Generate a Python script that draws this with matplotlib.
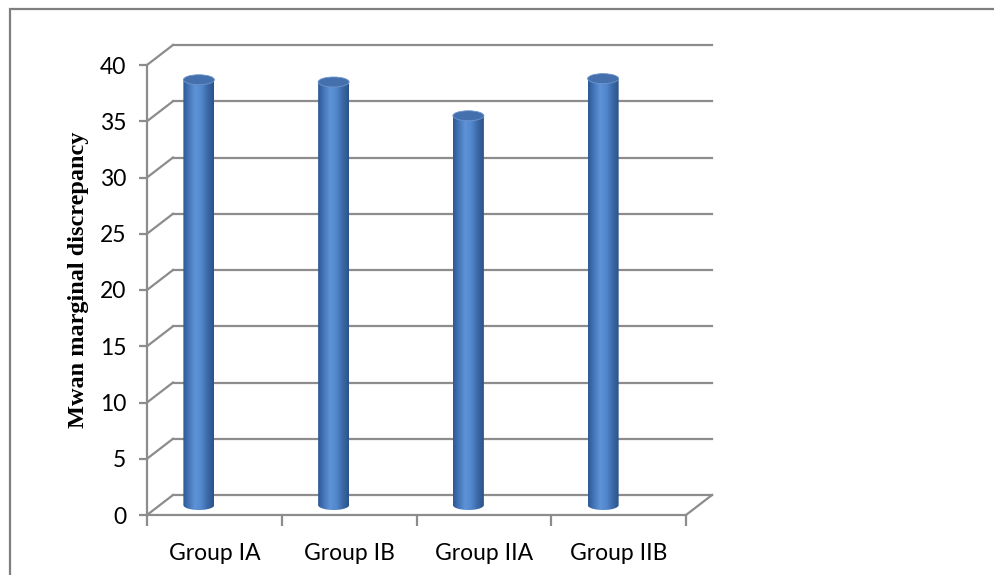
import matplotlib.pyplot as plt
import numpy as np
from matplotlib.colors import LinearSegmentedColormap
from matplotlib.patches import Ellipse, Polygon, Rectangle

categories = ["Group IA", "Group IB", "Group IIA", "Group IIB"]
values = [37.8, 37.6, 34.6, 37.9]
y_ticks = [0, 5, 10, 15, 20, 25, 30, 35, 40]
y_label = "Mwan marginal discrepancy"

W, H = 995, 575
fig = plt.figure(figsize=(W / 100, H / 100), dpi=100)

# plot box in pixels: front axis x 147..686, back wall to 712, value 0 at y=515, 40 at y=65
px_left, px_front_right, px_back_right = 147, 686, 712
px_zero, px_forty, px_back_top = 515, 65, 45
cat_px = (px_front_right - px_left) / len(categories)
val_px = (px_zero - px_forty) / 40.0
dx = (px_back_right - px_front_right) / cat_px
dy = (px_forty - px_back_top) / val_px

ax = fig.add_axes([px_left / W, (H - px_zero) / H,
                   (px_back_right - px_left) / W, (px_zero - px_back_top) / H])
x_lo, x_hi = -0.5, len(categories) - 0.5
ax.patch.set_alpha(0)

grid_col = "#8c8c8c"
lw = 1.6
# back wall gridlines and side wall diagonals
for v in y_ticks:
    ax.plot([x_lo + dx, x_hi + dx], [v + dy, v + dy], color=grid_col, lw=lw, clip_on=False, zorder=1)
    ax.plot([x_lo, x_lo + dx], [v, v + dy], color=grid_col, lw=lw, clip_on=False, zorder=1)
# floor right diagonal
ax.plot([x_hi, x_hi + dx], [0, dy], color=grid_col, lw=lw, clip_on=False, zorder=1)

for s in ["top", "right"]:
    ax.spines[s].set_visible(False)
for s in ["left", "bottom"]:
    ax.spines[s].set_color(grid_col)
    ax.spines[s].set_linewidth(lw)
ax.spines["left"].set_bounds(0, 40)
ax.spines["bottom"].set_bounds(x_lo, x_hi)

ax.set_yticks(y_ticks)
ax.set_yticklabels([str(t) for t in y_ticks], fontsize=16.5, family="Lato")
ax.tick_params(axis="y", length=6, width=lw, color=grid_col, pad=9)
ax.set_xticks(range(len(categories)))
ax.set_xticklabels(categories, fontsize=16.5, family="Lato")
ax.tick_params(axis="x", which="major", length=0, pad=20)
ax.set_xticks(np.arange(x_lo, x_hi + 0.01, 1.0), minor=True)
ax.tick_params(axis="x", which="minor", length=8, width=lw, color=grid_col)

ax.set_ylabel(y_label, family="Liberation Serif", fontweight="bold", fontsize=17.5, labelpad=8)

# cylinders
body_cmap = LinearSegmentedColormap.from_list(
    "cyl", ["#2d5893", "#4677bb", "#5f93d8", "#5287cc", "#3b68a6", "#2b5389"])
bar_shift = -0.115
half_w = 15.5 / cat_px
ell_h = 10.0 / val_px
grad = np.linspace(0, 1, 256).reshape(1, -1)
for i, v in enumerate(values):
    cx = i + bar_shift
    base = dy / 2
    top = v + dy / 2
    t = np.linspace(0, np.pi, 60)
    arc = np.column_stack([cx + half_w * np.cos(t), base - ell_h / 2 * np.sin(t)])
    # outline: top-left -> top-right -> bottom arc right-to-left -> back up the left side
    pts = np.vstack([[cx - half_w, top], [cx + half_w, top], arc])
    clip = Polygon(pts, closed=True, facecolor="none", edgecolor="none", transform=ax.transData)
    ax.add_patch(clip)
    im = ax.imshow(grad, extent=[cx - half_w, cx + half_w, base - ell_h, top],
                   aspect="auto", cmap=body_cmap, zorder=3, interpolation="bilinear")
    im.set_clip_path(clip)
    ax.add_patch(Ellipse((cx, top), 2 * half_w, ell_h, facecolor="#4470ad",
                         edgecolor="#6f96cc", lw=0.6, zorder=4))

ax.set_xlim(x_lo, x_hi + dx)
ax.set_ylim(0, 40 + dy)

# outer chart frame (cut off at the right and bottom edges of the image)
fig.patches.append(Rectangle((10 / W, -0.05), 1.2, 1.05 - 8.5 / H, transform=fig.transFigure,
                             fill=False, edgecolor="#7f7f7f", lw=1.6))

fig.savefig("out.png", dpi=100)
